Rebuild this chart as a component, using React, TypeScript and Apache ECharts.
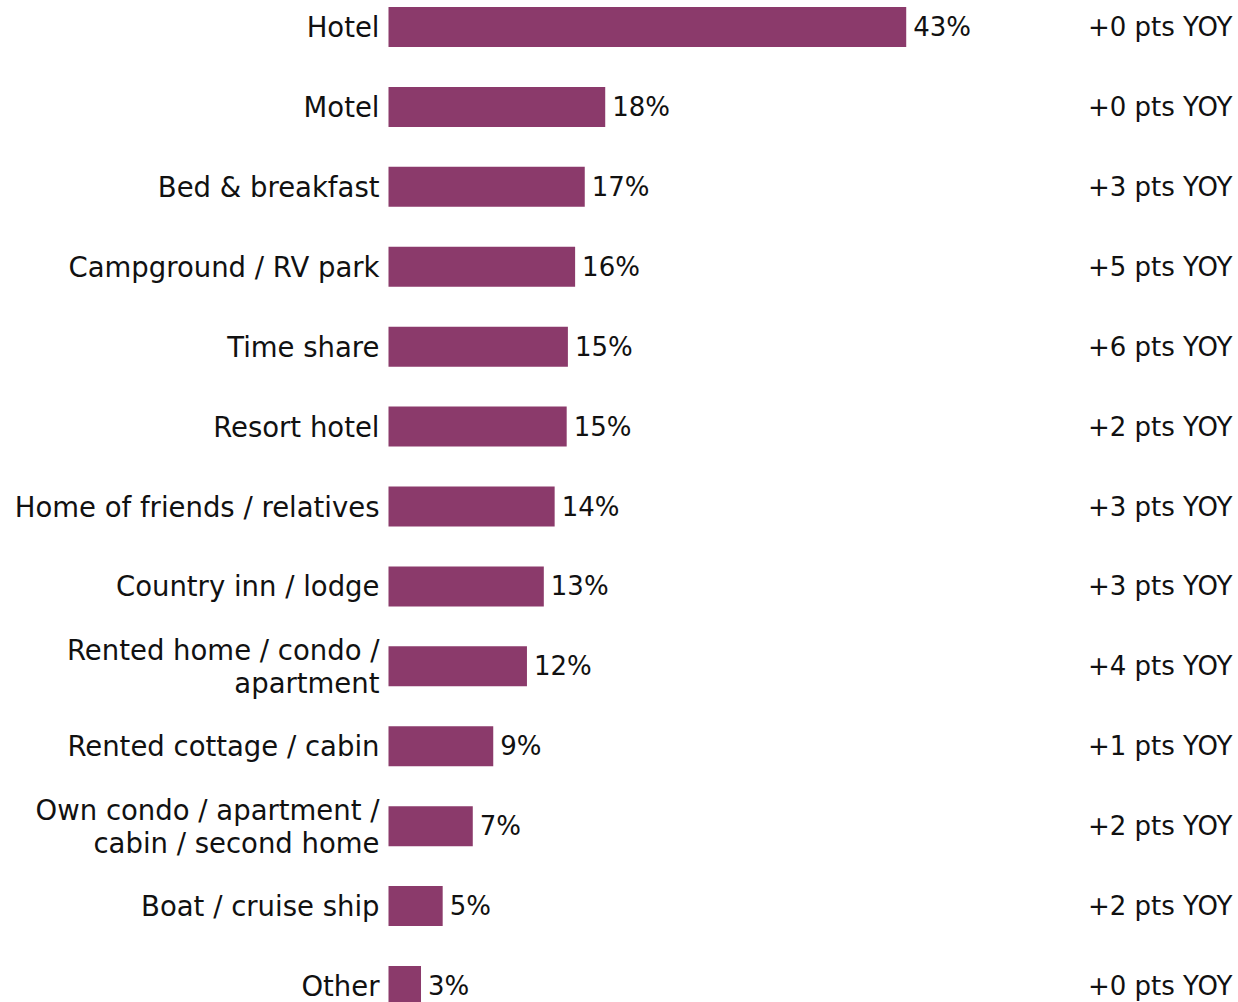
import React, { useEffect, useRef } from "react";
import * as echarts from "echarts";

const categories = [
  "Hotel",
  "Motel",
  "Bed & breakfast",
  "Campground / RV park",
  "Time share",
  "Resort hotel",
  "Home of friends / relatives",
  "Country inn / lodge",
  "Rented home / condo /\napartment",
  "Rented cottage / cabin",
  "Own condo / apartment /\ncabin / second home",
  "Boat / cruise ship",
  "Other",
];
const values = [43.0, 18.0, 16.3, 15.5, 14.9, 14.8, 13.8, 12.9, 11.5, 8.7, 7.0, 4.5, 2.7];
const valueLabels = ["43%", "18%", "17%", "16%", "15%", "15%", "14%", "13%", "12%", "9%", "7%", "5%", "3%"];
const yoyLabels = [
  "+0 pts YOY",
  "+0 pts YOY",
  "+3 pts YOY",
  "+5 pts YOY",
  "+6 pts YOY",
  "+2 pts YOY",
  "+3 pts YOY",
  "+3 pts YOY",
  "+4 pts YOY",
  "+1 pts YOY",
  "+2 pts YOY",
  "+2 pts YOY",
  "+0 pts YOY",
];

const FONT = "DejaVu Sans, Verdana, sans-serif";
const FS = 26;
const CAT_FS = 27.5;

export default function App() {
  const ref = useRef<HTMLDivElement>(null);
  useEffect(() => {
    if (!ref.current) return;
    const chart = echarts.init(ref.current, undefined, { renderer: "svg" });
    chart.setOption({
      animation: false,
      backgroundColor: "#ffffff",
      grid: { left: 388.5, width: 602, top: 0, height: 1039 },
      xAxis: { type: "value", min: 0, max: 50, show: false },
      yAxis: [
        {
          type: "category",
          data: categories,
          inverse: true,
          axisLine: { show: false },
          axisTick: { show: false },
          axisLabel: {
            margin: 9,
            color: "#111111",
            fontFamily: FONT,
            fontSize: CAT_FS,
            lineHeight: 33,
            align: "right",
          },
        },
        {
          type: "category",
          data: yoyLabels,
          inverse: true,
          position: "right",
          axisLine: { show: false },
          axisTick: { show: false },
          axisLabel: {
            margin: 242,
            color: "#111111",
            fontFamily: FONT,
            fontSize: FS,
            align: "right",
          },
        },
      ],
      series: [
        {
          type: "bar",
          yAxisIndex: 0,
          data: values,
          barWidth: 40,
          itemStyle: { color: "#8b3a6b" },
          label: {
            show: true,
            position: "right",
            distance: 7,
            color: "#111111",
            fontFamily: FONT,
            fontSize: FS,
            formatter: (p: any) => valueLabels[p.dataIndex],
          },
        },
      ],
    });
    return () => chart.dispose();
  }, []);
  return (
    <div style={{ position: "fixed", left: 0, top: 0, width: 1238, height: 1002, overflow: "hidden", background: "#fff" }}>
      <div
        ref={ref}
        style={{ position: "absolute", left: 0, top: -13, width: 1238, height: 1040 }}
      />
    </div>
  );
}
